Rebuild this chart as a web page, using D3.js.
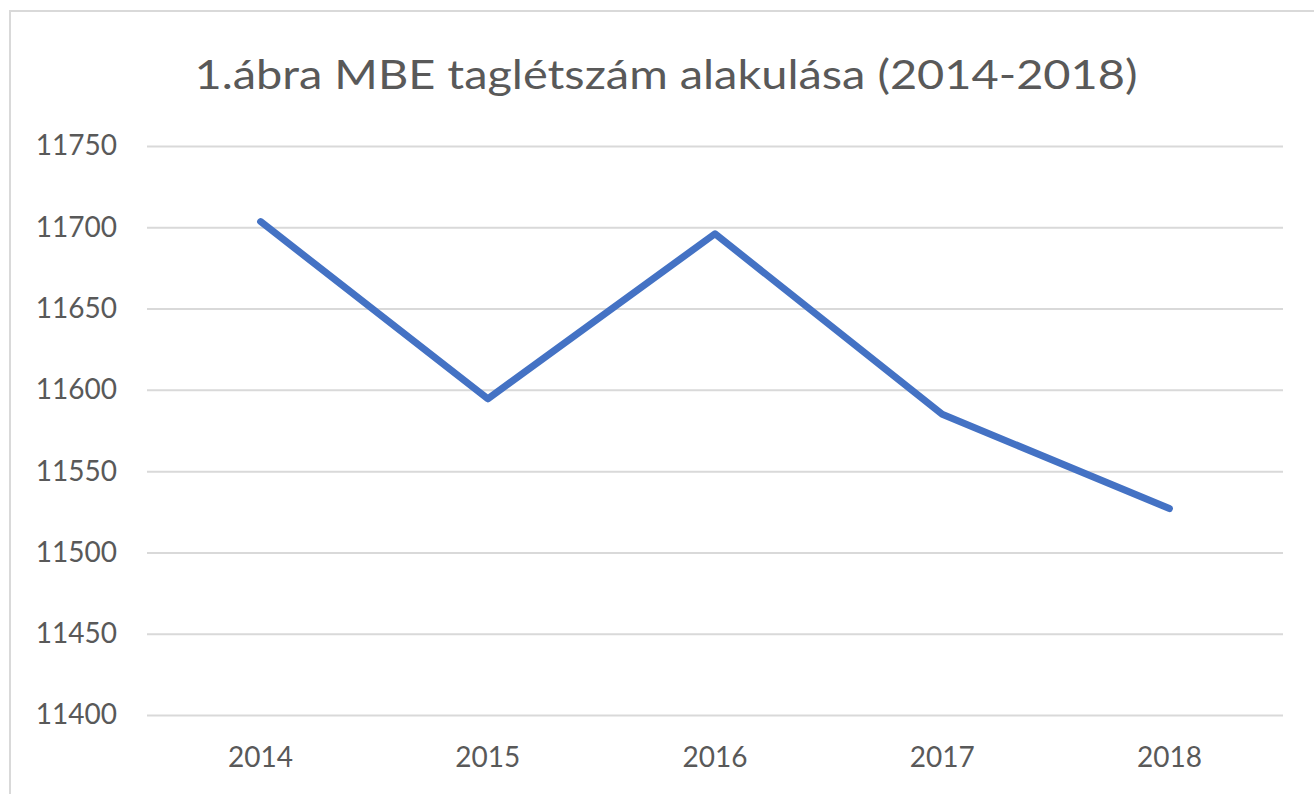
<!DOCTYPE html>
<html>
<head>
<meta charset="utf-8">
<script src="https://cdn.jsdelivr.net/npm/d3@7"></script>
<style>
  body { margin: 0; background: #fff; }
  svg { display: block; }
  text { font-family: Lato, "Open Sans", sans-serif; fill: #595959; }
</style>
</head>
<body>
<svg id="canvas"></svg>
<script>
const years = ["2014", "2015", "2016", "2017", "2018"]
const members = [11703.5, 11594.5, 11696, 11585, 11527]
const yTicks = [11400, 11450, 11500, 11550, 11600, 11650, 11700, 11750]
const title = "1.ábra MBE taglétszám alakulása (2014-2018)"

const width = 1314
const height = 794

const canvas = d3.select('#canvas')
  .attr('width', width)
  .attr('height', height)

// chart frame (runs off the right / bottom edge)
canvas.append('rect')
  .attr('x', 10)
  .attr('y', 11)
  .attr('width', width + 20)
  .attr('height', height + 20)
  .attr('fill', '#fff')
  .attr('stroke', '#d9d9d9')
  .attr('stroke-width', 2)

const plot = { left: 147, right: 1283, top: 146, bottom: 715 }

const xScale = d3.scaleBand()
  .domain(years)
  .range([plot.left, plot.right])

const yScale = d3.scaleLinear()
  .domain([11400, 11750])
  .range([plot.bottom, plot.top])

// gridlines + y labels
const yAxis = d3.axisLeft(yScale)
  .tickValues(yTicks)
  .tickSize(-(plot.right - plot.left))
  .tickPadding(30)
  .tickFormat(d3.format('d'))

const yG = canvas.append('g')
  .attr('transform', `translate(${plot.left}, 0)`)
  .call(yAxis)
yG.select('.domain').remove()
yG.selectAll('.tick line')
  .attr('stroke', '#d9d9d9')
  .attr('stroke-width', 2)
yG.selectAll('.tick text')
  .style('font-size', '28px')
  .attr('fill', '#595959')

const xAxis = d3.axisBottom(xScale)
  .tickSize(0)
  .tickPadding(32)

const xG = canvas.append('g')
  .attr('transform', `translate(0, ${plot.bottom})`)
  .call(xAxis)
xG.select('.domain').remove()
xG.selectAll('.tick text')
  .style('font-size', '28px')
  .attr('fill', '#595959')

// line
const line = d3.line()
  .x((d, i) => xScale(years[i]) + xScale.bandwidth() / 2)
  .y(d => yScale(d))

canvas.append('path')
  .datum(members)
  .attr('d', line)
  .attr('fill', 'none')
  .attr('stroke', '#4472c4')
  .attr('stroke-width', 7)
  .attr('stroke-linecap', 'round')
  .attr('stroke-linejoin', 'round')

canvas.append('text')
  .attr('x', 666)
  .attr('y', 89)
  .attr('text-anchor', 'middle')
  .attr('textLength', 943)
  .attr('lengthAdjust', 'spacingAndGlyphs')
  .style('font-size', '40px')
  .text(title)
</script>
</body>
</html>
